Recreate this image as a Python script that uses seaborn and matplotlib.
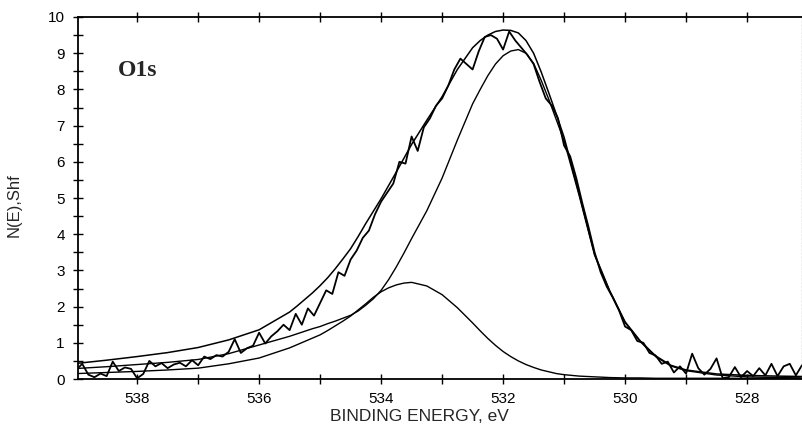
import numpy as np
import matplotlib
matplotlib.use("Agg")
import matplotlib.pyplot as plt
from matplotlib.ticker import MultipleLocator
import pandas as pd
import seaborn as sns

fit_energy = [539.0, 538.5, 538.0, 537.5, 537.0, 536.5, 536.0, 535.5, 535.375, 535.25,
              535.125, 535.0, 534.875, 534.75, 534.625, 534.5, 534.375, 534.25,
              534.125, 534.0, 533.875, 533.75, 533.625, 533.5, 533.25, 533.0, 532.75,
              532.5, 532.375, 532.25, 532.125, 532.0, 531.875, 531.75, 531.625, 531.5,
              531.375, 531.25, 531.125, 531.0, 530.75, 530.5, 530.25, 530.0, 529.75,
              529.5, 529.25, 529.0, 528.5, 528.0, 527.5, 527.1]

envelope = [0.43, 0.52, 0.62, 0.73, 0.87, 1.08, 1.36, 1.85, 2.02, 2.20,
            2.38, 2.58, 2.80, 3.05, 3.32, 3.60, 3.94, 4.30,
            4.64, 4.98, 5.35, 5.72, 6.10, 6.48, 7.15, 7.80, 8.55,
            9.15, 9.35, 9.50, 9.60, 9.64, 9.63, 9.56, 9.35, 9.00,
            8.48, 7.90, 7.30, 6.68, 5.10, 3.45, 2.43, 1.58, 1.05,
            0.64, 0.38, 0.25, 0.14, 0.10, 0.08, 0.07]

main_peak = [0.29, 0.34, 0.40, 0.46, 0.54, 0.70, 0.94, 1.18, 1.25, 1.32,
             1.39, 1.45, 1.53, 1.60, 1.68, 1.76, 1.88, 2.04,
             2.22, 2.45, 2.75, 3.10, 3.48, 3.88, 4.65, 5.55, 6.60,
             7.60, 8.00, 8.38, 8.70, 8.93, 9.06, 9.10, 9.00, 8.72,
             8.25, 7.72, 7.15, 6.58, 5.05, 3.42, 2.41, 1.56, 1.03,
             0.62, 0.36, 0.23, 0.11, 0.06, 0.04, 0.03]

second_peak = [0.15, 0.18, 0.21, 0.25, 0.30, 0.42, 0.58, 0.86, 0.95, 1.04,
               1.13, 1.22, 1.34, 1.47, 1.60, 1.74, 1.91, 2.08,
               2.26, 2.41, 2.52, 2.60, 2.65, 2.67, 2.57, 2.33, 1.97,
               1.55, 1.33, 1.12, 0.93, 0.76, 0.62, 0.50, 0.40, 0.32,
               0.25, 0.20, 0.15, 0.12, 0.08, 0.06, 0.04, 0.03, 0.03,
               0.02, 0.02, 0.02, 0.02, 0.02, 0.02, 0.02]

# measured spectrum, one channel every 0.1 eV from 539.0 down to 527.1
data_energy = np.round(np.linspace(539.0, 527.1, 120), 2)
counts = [0.25, 0.42, 0.12, 0.05, 0.15, 0.08, 0.48, 0.22, 0.32, 0.28,
          0.02, 0.14, 0.50, 0.35, 0.44, 0.30, 0.40, 0.45, 0.35, 0.52,
          0.38, 0.62, 0.55, 0.66, 0.62, 0.75, 1.10, 0.72, 0.85, 0.92,
          1.28, 0.98, 1.18, 1.32, 1.50, 1.35, 1.80, 1.50, 1.95, 1.75,
          2.10, 2.45, 2.35, 2.95, 2.85, 3.30, 3.55, 3.90, 4.10, 4.55,
          4.90, 5.15, 5.40, 6.00, 5.95, 6.70, 6.30, 6.95, 7.20, 7.55,
          7.75, 8.10, 8.55, 8.85, 8.70, 8.55, 9.05, 9.45, 9.50, 9.40,
          9.10, 9.60, 9.35, 9.15, 8.95, 8.70, 8.20, 7.75, 7.55, 7.20,
          6.45, 6.15, 5.55, 4.85, 4.20, 3.50, 2.95, 2.55, 2.25, 1.90,
          1.45, 1.35, 1.05, 1.00, 0.72, 0.65, 0.42, 0.48, 0.18, 0.35,
          0.15, 0.70, 0.30, 0.12, 0.28, 0.57, 0.02, 0.05, 0.33, 0.05,
          0.22, 0.08, 0.30, 0.10, 0.42, 0.08, 0.35, 0.42, 0.10, 0.38]

sns.set_style("ticks")
plt.rcParams["font.family"] = ["Liberation Sans", "DejaVu Sans"]

fits = pd.DataFrame({"energy": fit_energy, "envelope": envelope,
                     "main": main_peak, "second": second_peak})
spec = pd.DataFrame({"energy": data_energy, "counts": counts})

fig = plt.figure(figsize=(8.03, 4.25), dpi=100)
ax = fig.add_axes([0.0971, 0.1082, 0.9016, 0.8518])

sns.lineplot(data=spec, x="energy", y="counts", ax=ax, color="black",
             lw=1.3, estimator=None)
sns.lineplot(data=fits, x="energy", y="envelope", ax=ax, color="black",
             lw=1.1, estimator=None)
sns.lineplot(data=fits, x="energy", y="main", ax=ax, color="black",
             lw=1.0, estimator=None)
sns.lineplot(data=fits, x="energy", y="second", ax=ax, color="black",
             lw=1.0, estimator=None)

ax.set_xlim(538.97, 527.1)
ax.set_ylim(0, 10)

ax.xaxis.set_major_locator(MultipleLocator(2))
ax.xaxis.set_minor_locator(MultipleLocator(1))
ax.yaxis.set_major_locator(MultipleLocator(1))
ax.yaxis.set_minor_locator(MultipleLocator(0.5))
ax.tick_params(which="both", direction="inout", length=7, width=1.0,
               top=True, right=False, labelsize=11, pad=6, colors="black")

for side in ["left", "bottom", "top"]:
    ax.spines[side].set_color("black")
    ax.spines[side].set_linewidth(1.3)
ax.spines["right"].set_color("#bbbbbb")
ax.spines["right"].set_linestyle(":")
ax.spines["right"].set_linewidth(1.0)

ax.set_xlabel("BINDING ENERGY, eV", fontsize=12.5)
ax.set_ylabel("N(E),Shf", fontsize=12)
ax.xaxis.set_label_coords(0.471, -0.083)
ax.yaxis.set_label_coords(-0.078, 0.48)

ax.text(0.055, 0.853, "O1s", transform=ax.transAxes, fontsize=17,
        fontweight="bold", family=["Liberation Serif", "DejaVu Serif"],
        va="center", ha="left")

fig.savefig("out.png", dpi=100)
